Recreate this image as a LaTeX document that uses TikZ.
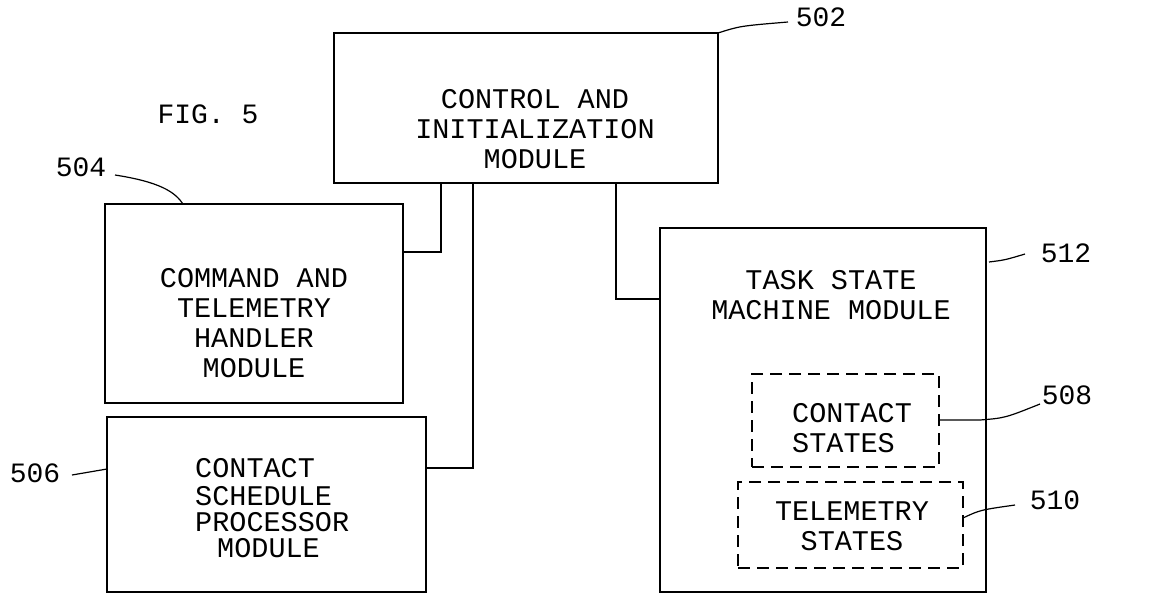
\documentclass[tikz,border=0pt]{standalone}
\usepackage{fontspec}
\newfontfamily\cour{Liberation Mono}
\begin{document}
\begin{tikzpicture}[x=1pt,y=-1pt,
  box/.style={draw,line width=1.6pt,anchor=north west,inner sep=0pt,outer sep=0pt},
  dbox/.style={box,dash pattern=on 12pt off 7pt},
  txt/.style={font=\cour\fontsize{28.5}{30}\selectfont,inner sep=0pt,align=center},
  ref/.style={font=\cour\fontsize{28}{30}\selectfont,inner sep=0pt},
  wire/.style={line width=1.6pt},
  lead/.style={line width=1.2pt}]
\useasboundingbox (0,0) rectangle (1149,597);
% boxes
\node[box,minimum width=384pt,minimum height=150pt] (ctrl) at (334,33) {};
\node[box,minimum width=298pt,minimum height=199pt] (cmd) at (105,204) {};
\node[box,minimum width=319pt,minimum height=175pt] (csp) at (107,417) {};
\node[box,minimum width=326pt,minimum height=364pt] (tsm) at (660,228) {};
\node[dbox,minimum width=187pt,minimum height=93pt] (cst) at (752,374) {};
\node[dbox,minimum width=225pt,minimum height=86pt] (tst) at (738,482) {};
% texts
\node[txt] (ctrlt) at (535,129) {CONTROL AND\\INITIALIZATION\\MODULE};
\node[txt] (cmdt) at (254,323) {COMMAND AND\\TELEMETRY\\HANDLER\\MODULE};
\node[txt,align=left,anchor=west] (cspt) at (195,508) {CONTACT\\[-2pt]SCHEDULE\\[-4pt]PROCESSOR\\[-4pt]\hspace*{22pt}MODULE};
\node[txt] (tsmt) at (831,295) {TASK STATE\\MACHINE MODULE};
\node[txt,align=left,anchor=west] (cstt) at (792,428) {CONTACT\\STATES};
\node[txt] (tstt) at (852,526) {TELEMETRY\\STATES};
\node[ref] (fig) at (208,114) {FIG. 5};
% reference numerals
\node[ref] (r502) at (821,17) {502};
\node[ref] (r504) at (81,167) {504};
\node[ref] (r506) at (35,473) {506};
\node[ref] (r512) at (1066,253) {512};
\node[ref] (r508) at (1067,395) {508};
\node[ref] (r510) at (1055,500) {510};
% connectors
\coordinate (k1) at (441,252);
\coordinate (k2) at (473,468);
\coordinate (k3) at (616,299);
\draw[wire] (ctrl.south -| k1) |- (cmd.east |- k1);
\draw[wire] (ctrl.south -| k2) |- (csp.east |- k2);
\draw[wire] (ctrl.south -| k3) |- (tsm.west |- k3);
% leader lines
\draw[lead] (ctrl.north east) .. controls (740,26) .. (788,22);
\draw[lead] (115,175) .. controls (160,182) and (175,192) .. (183,204);
\draw[lead] (72,475) -- (csp.west |- {0,469});
\draw[lead] (989,262) .. controls (1005,260) .. (1025,254);
\draw[lead] (cst.east |- {0,420}) -- (980,420) .. controls (1005,418) .. (1040,404);
\draw[lead] (tst.east |- {0,518}) .. controls (980,510) .. (1015,505);
\end{tikzpicture}
\end{document}
